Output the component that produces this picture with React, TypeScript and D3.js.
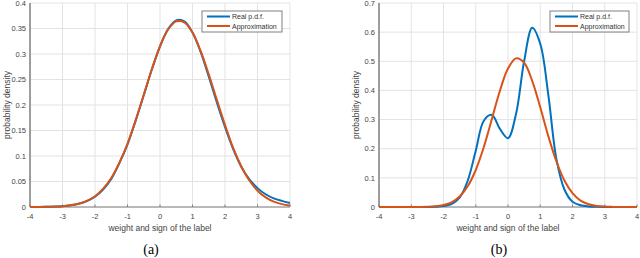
import React from "react";
import * as d3 from "d3";

// x grid shared by every curve (step 0.25 from -4 to 4)
const xs = d3.range(-4, 4.001, 0.25);

// panel (a): real pdf vs gaussian approximation
const realA = [
  0.0001, 0.0002, 0.0005, 0.001, 0.0017, 0.0034, 0.0063, 0.0115, 0.02, 0.034, 0.055,
  0.086, 0.123, 0.169, 0.219, 0.27, 0.315, 0.349, 0.366, 0.364, 0.342, 0.304, 0.256,
  0.205, 0.157, 0.114, 0.079, 0.054, 0.037, 0.025, 0.017, 0.012, 0.008,
];
const approxA = [
  0.00005, 0.00013, 0.0003, 0.0007, 0.0016, 0.0033, 0.0064, 0.012, 0.021, 0.036, 0.057,
  0.087, 0.124, 0.17, 0.22, 0.27, 0.315, 0.348, 0.364, 0.362, 0.342, 0.306, 0.26,
  0.21, 0.161, 0.116, 0.08, 0.052, 0.032, 0.019, 0.0106, 0.0056, 0.0028,
];

// panel (b): bimodal real pdf vs gaussian approximation
const realB = [
  0, 0, 0, 0, 0, 0, 0.0003, 0.001, 0.003, 0.01, 0.032,
  0.09, 0.193, 0.296, 0.316, 0.268, 0.236, 0.32, 0.5, 0.615, 0.56, 0.385, 0.165,
  0.06, 0.018, 0.006, 0.002, 0.0005, 0, 0, 0, 0, 0,
];
const approxB = [
  0, 0, 0, 0, 0.00007, 0.0002, 0.0008, 0.0024, 0.0066, 0.016, 0.036,
  0.071, 0.127, 0.206, 0.302, 0.399, 0.475, 0.51, 0.495, 0.433, 0.342, 0.243, 0.157,
  0.091, 0.0475, 0.022, 0.0095, 0.0037, 0.0013, 0.0004, 0.0001, 0, 0,
];

const xTicks = [-4, -3, -2, -1, 0, 1, 2, 3, 4];
const yTicksA = [0, 0.05, 0.1, 0.15, 0.2, 0.25, 0.3, 0.35, 0.4];
const yTicksB = [0, 0.1, 0.2, 0.3, 0.4, 0.5, 0.6, 0.7];
const legendLabels = ["Real p.d.f.", "Approximation"];

const BLUE = "#0072BD";
const ORANGE = "#D95319";
const FONT = "'Liberation Sans', Arial, sans-serif";

function Panel({ left, right, top, bottom, yMax, yTicks, real, approx, legendX, legendW, caption, captionX }) {
  const x = d3.scaleLinear().domain([-4, 4]).range([left, right]);
  const y = d3.scaleLinear().domain([0, yMax]).range([bottom, top]);
  const line = d3
    .line<number>()
    .x((d, i) => x(xs[i]))
    .y(d => y(d))
    .curve(d3.curveCatmullRom);

  const fmt = (v: number) => String(+v.toFixed(2));

  return (
    <g fontFamily={FONT}>
      {/* grid */}
      {xTicks.map(t => (
        <line key={"gx" + t} x1={x(t)} x2={x(t)} y1={top} y2={bottom} stroke="#e3e3e3" strokeWidth={1} />
      ))}
      {yTicks.map(t => (
        <line key={"gy" + t} x1={left} x2={right} y1={y(t)} y2={y(t)} stroke="#e3e3e3" strokeWidth={1} />
      ))}
      {/* axes */}
      <line x1={left} x2={left} y1={top} y2={bottom} stroke="#808080" strokeWidth={1.5} />
      <line x1={left} x2={right} y1={bottom} y2={bottom} stroke="#808080" strokeWidth={1} />
      {xTicks.map(t => (
        <g key={"tx" + t}>
          <line x1={x(t)} x2={x(t)} y1={bottom} y2={bottom - 2.5} stroke="#808080" />
          <text x={x(t)} y={bottom + 12} fontSize={7.5} fill="#444" textAnchor="middle">{t}</text>
        </g>
      ))}
      {yTicks.map(t => (
        <text key={"ty" + t} x={left - 4} y={y(t) + 2.7} fontSize={7.5} fill="#444" textAnchor="end">{fmt(t)}</text>
      ))}
      {/* curves */}
      <path d={line(real) || ""} fill="none" stroke={BLUE} strokeWidth={2} />
      <path d={line(approx) || ""} fill="none" stroke={ORANGE} strokeWidth={2} />
      {/* labels */}
      <text x={(left + right) / 2} y={bottom + 24} fontSize={8.5} fill="#444" textAnchor="middle">
        weight and sign of the label
      </text>
      <text
        transform={`translate(${left - 20},${(top + bottom) / 2}) rotate(-90)`}
        fontSize={8.5}
        fill="#444"
        textAnchor="middle"
      >
        probability density
      </text>
      {/* legend */}
      <rect x={legendX} y={11} width={legendW} height={21} fill="#fff" stroke="#808080" strokeWidth={1} />
      {legendLabels.map((l, i) => (
        <g key={l}>
          <line
            x1={legendX + 5}
            x2={legendX + 28}
            y1={16.5 + i * 9.5}
            y2={16.5 + i * 9.5}
            stroke={i === 0 ? BLUE : ORANGE}
            strokeWidth={2}
          />
          <text x={legendX + 30} y={19 + i * 9.5} fontSize={7} fill="#333">{l}</text>
        </g>
      ))}
      <text x={captionX} y={254} fontSize={14} fontFamily="'Liberation Serif', 'Times New Roman', serif" textAnchor="middle" fill="#000">
        {caption}
      </text>
    </g>
  );
}

export default function App() {
  return (
    <svg width={640} height={258} style={{ position: "absolute", left: 0, top: 0, background: "#fff" }}>
      <rect width={640} height={258} fill="#fff" />
      <Panel left={30} right={290} top={3} bottom={207} yMax={0.4} yTicks={yTicksA}
        real={realA} approx={approxA} legendX={202} legendW={80} caption="(a)" captionX={151} />
      <Panel left={379} right={637} top={3} bottom={207} yMax={0.7} yTicks={yTicksB}
        real={realB} approx={approxB} legendX={550} legendW={79} caption="(b)" captionX={499} />
    </svg>
  );
}
